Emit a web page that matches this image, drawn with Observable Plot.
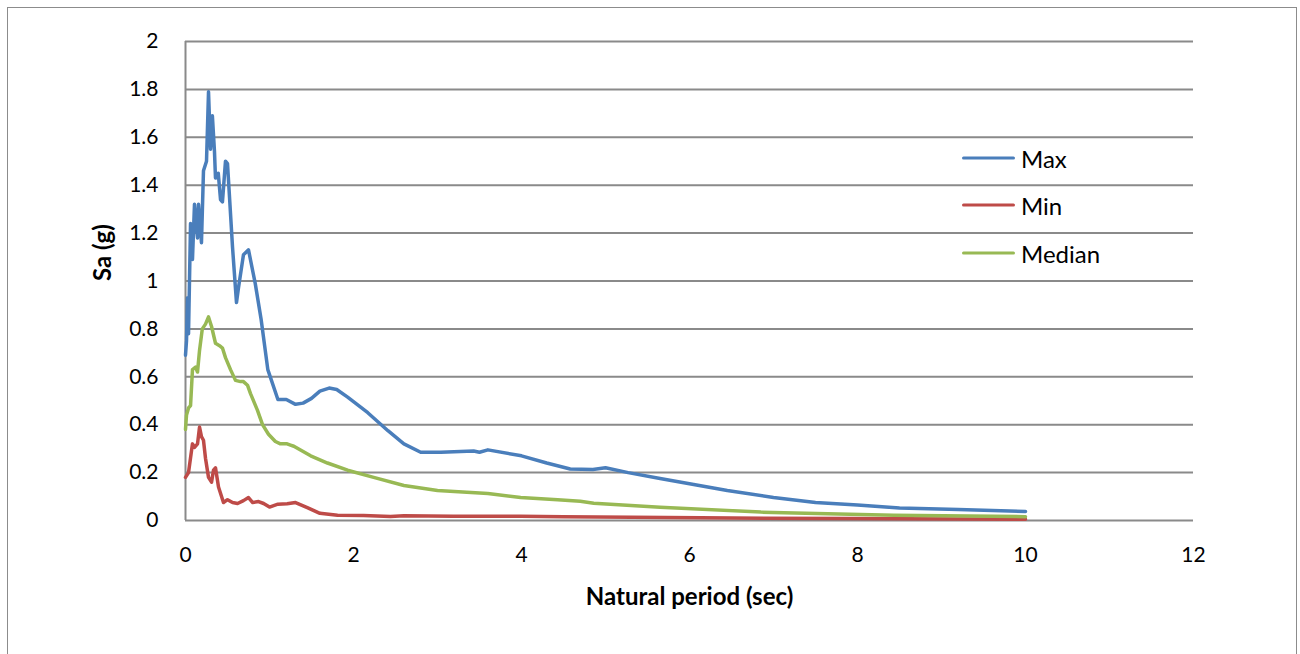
<!DOCTYPE html>
<html>
<head>
<meta charset="utf-8">
<script src="https://cdn.jsdelivr.net/npm/d3@7"></script>
<script src="https://cdn.jsdelivr.net/npm/@observablehq/plot@0.6"></script>
<style>
  html, body { margin: 0; padding: 0; background: #fff; }
  #wrap { position: relative; width: 1300px; height: 654px; overflow: hidden; font-family: Lato, "Open Sans", sans-serif; }
  #border { position: absolute; left: 7px; top: 7px; width: 1290px; height: 700px; border: 1.5px solid #8c8c8c; box-sizing: border-box; }
  #chart { position: absolute; left: 0; top: 0; }
  .legend { position: absolute; left: 962px; font-size: 24px; color: #000; }
  .legend .item { position: absolute; left: 0; display: flex; align-items: center; white-space: nowrap; transform: translateY(-50%); }
  .legend .sw { width: 53px; height: 3.5px; border-radius: 2px; margin-right: 6px; }
</style>
</head>
<body>
<div id="wrap">
  <div id="border"></div>
  <div id="chart"></div>
  <div class="legend" id="legend"></div>
</div>
<script>
// ---- Data ----
const seriesNames = ["Max", "Min", "Median"];
const seriesColors = ["#4A7EBB", "#BE4B48", "#98B954"];

const maxT  = [0, 0.012, 0.024, 0.036, 0.06, 0.083, 0.107, 0.143, 0.155, 0.19, 0.214, 0.25, 0.274, 0.298, 0.32, 0.345, 0.357, 0.39, 0.417, 0.44, 0.476, 0.5, 0.56, 0.607, 0.63, 0.69, 0.75, 0.83, 0.9, 0.98, 1.1, 1.2, 1.31, 1.4, 1.5, 1.6, 1.71, 1.8, 1.93, 2.17, 2.41, 2.6, 2.8, 3.04, 3.43, 3.5, 3.6, 4.0, 4.3, 4.58, 4.85, 5.0, 5.27, 5.65, 6.05, 6.45, 7.0, 7.5, 8.0, 8.5, 9.2, 10];
const maxSa = [0.69, 0.75, 0.93, 0.78, 1.24, 1.09, 1.32, 1.18, 1.32, 1.16, 1.46, 1.50, 1.79, 1.55, 1.69, 1.54, 1.43, 1.45, 1.34, 1.33, 1.50, 1.49, 1.14, 0.91, 0.97, 1.11, 1.13, 0.99, 0.84, 0.63, 0.505, 0.505, 0.485, 0.49, 0.51, 0.54, 0.553, 0.547, 0.515, 0.45, 0.375, 0.32, 0.285, 0.285, 0.29, 0.285, 0.295, 0.27, 0.24, 0.215, 0.213, 0.22, 0.2, 0.175, 0.15, 0.125, 0.096, 0.075, 0.065, 0.052, 0.046, 0.038];

const minT  = [0, 0.036, 0.083, 0.107, 0.143, 0.167, 0.19, 0.214, 0.238, 0.274, 0.31, 0.333, 0.357, 0.393, 0.452, 0.5, 0.56, 0.62, 0.69, 0.75, 0.8, 0.87, 0.93, 1.0, 1.1, 1.21, 1.31, 1.45, 1.6, 1.81, 2.12, 2.44, 2.6, 3.19, 3.99, 4.5, 6.13, 7.92, 10];
const minSa = [0.18, 0.20, 0.32, 0.305, 0.32, 0.39, 0.35, 0.335, 0.26, 0.18, 0.16, 0.21, 0.22, 0.14, 0.075, 0.087, 0.075, 0.071, 0.083, 0.096, 0.075, 0.079, 0.071, 0.056, 0.068, 0.07, 0.075, 0.054, 0.03, 0.022, 0.021, 0.017, 0.02, 0.018, 0.018, 0.016, 0.011, 0.008, 0.005];

const medT  = [0, 0.012, 0.036, 0.06, 0.083, 0.12, 0.143, 0.167, 0.2, 0.238, 0.274, 0.31, 0.357, 0.405, 0.44, 0.476, 0.536, 0.595, 0.655, 0.69, 0.738, 0.774, 0.857, 0.917, 0.988, 1.07, 1.13, 1.21, 1.25, 1.29, 1.49, 1.69, 1.93, 2.24, 2.6, 3.0, 3.6, 3.99, 4.43, 4.7, 4.86, 5.65, 6.85, 8.43, 10];
const medSa = [0.38, 0.44, 0.47, 0.48, 0.63, 0.64, 0.62, 0.71, 0.80, 0.82, 0.85, 0.81, 0.74, 0.73, 0.72, 0.68, 0.63, 0.585, 0.58, 0.58, 0.565, 0.53, 0.46, 0.40, 0.36, 0.33, 0.32, 0.32, 0.315, 0.31, 0.27, 0.24, 0.21, 0.18, 0.146, 0.125, 0.113, 0.096, 0.087, 0.08, 0.072, 0.055, 0.035, 0.022, 0.016];

const xTicks = [0, 2, 4, 6, 8, 10, 12];
const yTicks = [0, 0.2, 0.4, 0.6, 0.8, 1, 1.2, 1.4, 1.6, 1.8, 2];
const xTitle = "Natural period (sec)";
const yTitle = "Sa (g)";

// ---- Build table ----
const rows = [];
[[maxT, maxSa], [minT, minSa], [medT, medSa]].forEach(([ts, ss], i) => {
  ts.forEach((t, j) => rows.push({T: t, Sa: ss[j], series: seriesNames[i]}));
});

const fontFamily = "Lato, 'Open Sans', sans-serif";

const chart = Plot.plot({
  width: 1300,
  height: 654,
  marginLeft: 185,
  marginRight: 107,
  marginTop: 41,
  marginBottom: 134,
  style: {fontFamily, fontSize: "21px", color: "#000", background: "transparent", overflow: "visible"},
  x: {domain: [0, 12], ticks: xTicks},
  y: {domain: [0, 2], ticks: yTicks},
  color: {domain: seriesNames, range: seriesColors},
  marks: [
    Plot.gridY(yTicks, {stroke: "#8a8a8a", strokeOpacity: 1, strokeWidth: 2}),
    Plot.ruleX([0], {stroke: "#8a8a8a", strokeWidth: 2}),
    Plot.axisX(xTicks, {tickSize: 0, tickPadding: 27, label: null, fontSize: 21, tickFormat: d => String(d)}),
    Plot.axisY(yTicks, {tickSize: 0, tickPadding: 27, label: null, fontSize: 21, tickFormat: d => String(+d.toFixed(1))}),
    Plot.line(rows, {x: "T", y: "Sa", z: "series", stroke: "series", strokeWidth: 3.5, strokeLinejoin: "round", strokeLinecap: "round"}),
    Plot.text([xTitle], {frameAnchor: "bottom", dy: 84, text: d => d, fontWeight: "bold", fontSize: 24}),
    Plot.text([yTitle], {frameAnchor: "left", dx: -82, rotate: -90, text: d => d, fontWeight: "bold", fontSize: 24})
  ]
});
document.getElementById("chart").appendChild(chart);

// ---- Legend ----
const legendY = [158, 205, 253];
const legend = document.getElementById("legend");
seriesNames.forEach((name, i) => {
  const item = document.createElement("div");
  item.className = "item";
  item.style.top = legendY[i] + "px";
  const sw = document.createElement("div");
  sw.className = "sw";
  sw.style.background = seriesColors[i];
  const lab = document.createElement("span");
  lab.textContent = name;
  item.appendChild(sw);
  item.appendChild(lab);
  legend.appendChild(item);
});
</script>
</body>
</html>
